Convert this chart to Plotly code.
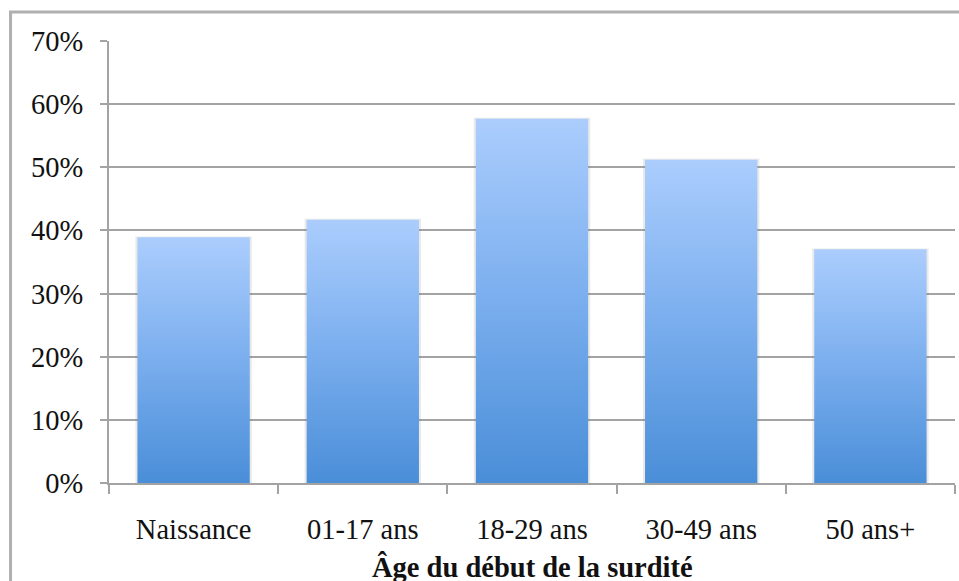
import plotly.graph_objects as go

# Share of respondents by age at onset of deafness
categories = ["Naissance", "01-17 ans", "18-29 ans", "30-49 ans", "50 ans+"]
shares = [38.9, 41.7, 57.7, 51.2, 37.0]
y_ticks = [0, 10, 20, 30, 40, 50, 60, 70]
y_tick_labels = [f"{v}%" for v in y_ticks]
x_title = "Âge du début de la surdité"

FONT = "Liberation Serif"
GRID = "#a3a3a3"
HALF_WIDTH = 0.332  # half of a bar's width, in category units

fig = go.Figure()

for i, (cat, v) in enumerate(zip(categories, shares)):
    # soft drop shadow behind each bar
    s = HALF_WIDTH + 0.012
    fig.add_trace(go.Scatter(
        x=[i - s, i + s, i + s, i - s, i - s],
        y=[0, 0, v + 0.15, v + 0.15, 0],
        fill="toself", mode="lines", line=dict(width=0),
        fillcolor="rgba(120,120,120,0.16)", hoverinfo="skip", showlegend=False,
    ))
    # bar body with a vertical gradient, darker at the base
    fig.add_trace(go.Scatter(
        x=[i - HALF_WIDTH, i + HALF_WIDTH, i + HALF_WIDTH, i - HALF_WIDTH, i - HALF_WIDTH],
        y=[0, 0, v, v, 0],
        fill="toself", mode="lines", line=dict(width=0),
        fillgradient=dict(type="vertical",
                          colorscale=[[0, "#4a8ed8"], [0.5, "#7aaeee"], [1, "#abcdfd"]]),
        name=cat, hoverinfo="skip", showlegend=False,
    ))

fig.update_layout(
    width=959, height=581,
    margin=dict(l=109, r=4, t=41, b=98),
    paper_bgcolor="white", plot_bgcolor="white",
    font=dict(family=FONT, size=28.5, color="#111111"),
    showlegend=False,
)

fig.update_xaxes(
    range=[-0.5, len(categories) - 0.5],
    tickmode="array", tickvals=list(range(len(categories))), ticktext=categories,
    ticks="", showgrid=False, zeroline=False,
    showline=True, linecolor=GRID, linewidth=2,
    minor=dict(tickmode="linear", tick0=-0.5, dtick=1, ticks="outside",
               ticklen=9, tickwidth=2, tickcolor=GRID, showgrid=False),
    ticklabelstandoff=20,
    automargin=False,
)

fig.update_yaxes(
    range=[0, 70],
    tickmode="array", tickvals=y_ticks, ticktext=y_tick_labels,
    ticks="outside", ticklen=7, tickwidth=2, tickcolor=GRID,
    showgrid=True, gridcolor=GRID, gridwidth=2,
    zeroline=False, showline=True, linecolor=GRID, linewidth=2,
    ticklabelstandoff=11,
    automargin=False,
)

# x-axis title, set low so it sits at the bottom edge of the frame
fig.add_annotation(
    text=f"<b>{x_title}</b>", xref="paper", yref="paper",
    x=0.5, y=0, xanchor="center", yanchor="top", yshift=-66,
    showarrow=False, font=dict(family=FONT, size=28.5, color="#111111"),
)

# frame around the whole chart
fig.add_shape(type="rect", xref="paper", yref="paper",
              x0=-0.1164, x1=1.2, y0=-0.4, y1=1.0656,
              line=dict(color="#b0b0b0", width=3), layer="below")

fig.write_html("out.html")
